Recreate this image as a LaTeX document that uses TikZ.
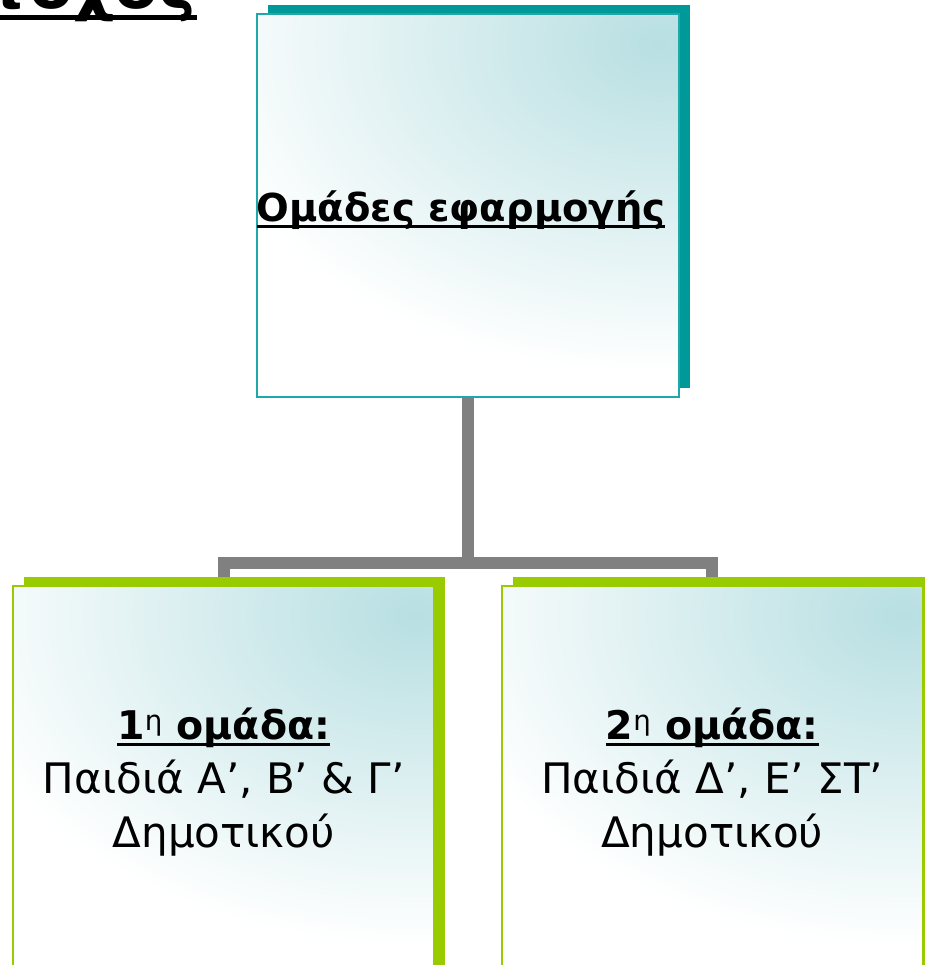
\documentclass[tikz,border=0pt]{standalone}
\usepackage{fontspec}
\setmainfont{DejaVu Sans}
\usetikzlibrary{shadows,backgrounds}

\definecolor{tealdark}{HTML}{009999}
\definecolor{tealline}{HTML}{1FA8A8}
\definecolor{tealpale}{HTML}{B8DFE2}
\definecolor{limegreen}{HTML}{99CC00}
\definecolor{linkgray}{HTML}{808080}

% underline at a fixed depth below the baseline
\newcommand{\ulbox}[1]{\setbox0\hbox{#1}\rlap{\rule[-0.17em]{\wd0}{0.075em}}\box0}

\tikzset{
	groupbox/.style={minimum width=421pt, inner sep=0pt, line width=2pt, align=center,
		path picture={
			\fill[white] (path picture bounding box.south west) rectangle (path picture bounding box.north east);
			\shade[inner color=tealpale, outer color=white] ([xshift=-20pt,yshift=-30pt]path picture bounding box.north east) ellipse (470pt and 330pt);}},
	topbox/.style={groupbox, minimum height=383pt, draw=tealline, drop shadow={shadow xshift=11pt, shadow yshift=9pt, opacity=1, fill=tealdark}},
	kidbox/.style={groupbox, minimum height=393pt, draw=limegreen, drop shadow={shadow xshift=11pt, shadow yshift=9pt, opacity=1, fill=limegreen}},
	link/.style={draw=linkgray, line width=12pt}
}

\begin{document}
\begin{tikzpicture}[x=1pt, y=-1pt]
	\useasboundingbox (0,0) rectangle (924,965);

	\node[anchor=base east, inner sep=0pt, font=\fontsize{64}{64}\selectfont\bfseries] (goal) at (197,9) {\ulbox{Στόχος}};

	\node[topbox, font=\fontsize{38.5}{50}\selectfont\bfseries] (apply) at (468,205.5) {\raisebox{-4.5pt}[\height][\depth]{\ulbox{Ομάδες εφαρμογής}}\hspace*{14pt}};

	\node[kidbox, font=\fontsize{42}{54}\selectfont] (first) at (223.75,782) {{\fontsize{39.5}{54}\selectfont\bfseries\ulbox{1\textsuperscript{\mdseries η} ομάδα:}}\\ Παιδιά Α’, Β’ \& Γ’\hspace*{16pt}\\ Δημοτικού};
	\node[kidbox, font=\fontsize{42}{54}\selectfont] (second) at (712.25,782) {{\fontsize{39.5}{54}\selectfont\bfseries\ulbox{2\textsuperscript{\mdseries η} ομάδα:}}\\ Παιδιά Δ’, Ε’ ΣΤ’\\ Δημοτικού};

	\begin{scope}[on background layer]
		\coordinate (fork) at (469,563);
		\draw[link] (apply.south) -- (apply.south |- fork) -| (first.north);
		\draw[link] (apply.south |- fork) -| (second.north);
	\end{scope}
\end{tikzpicture}
\end{document}
